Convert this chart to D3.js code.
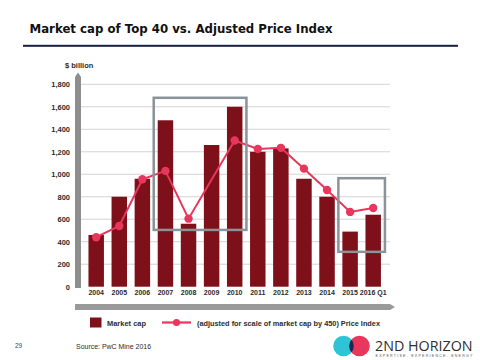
<!DOCTYPE html>
<html><head><meta charset="utf-8">
<script src="https://cdn.jsdelivr.net/npm/d3@7"></script>
<style>html,body{margin:0;padding:0;background:#fff;}svg{display:block;}</style>
</head><body>
<script>
const categories = ["2004","2005","2006","2007","2008","2009","2010","2011","2012","2013","2014","2015","2016 Q1"];
const marketCap = [460, 800, 960, 1480, 560, 1260, 1600, 1200, 1230, 960, 800, 490, 640];
const priceIndex = [440, 540, 955, 1030, 605, null, 1300, 1225, 1235, 1050, 860, 665, 700];
const yTicks = [0, 200, 400, 600, 800, 1000, 1200, 1400, 1600, 1800];
const boxes = [
  {from: "2007", to: "2010", lo: 505, hi: 1680},
  {from: "2015", to: "2016 Q1", lo: 310, hi: 965}
];
const titleText = "Market cap of Top 40 vs. Adjusted Price Index";
const legendBar = "Market cap";
const legendLine = "(adjusted for scale of market cap by 450) Price Index";

const W = 480, H = 360;
const svg = d3.select("body").append("svg").attr("width", W).attr("height", H);
svg.append("rect").attr("width", W).attr("height", H).attr("fill", "#fff");

const x = d3.scaleBand().domain(categories).range([84.66, 384.74]).paddingInner(0.33).paddingOuter(0.165);
const y = d3.scaleLinear().domain([0, 1800]).range([286.7, 84.3]);

const BAR = "#7e1019", LINE = "#e8375d", AX = "#8e8e8e", TXT = "#2b2b2b";

// title
svg.append("text").attr("x", 29.5).attr("y", 33).text(titleText)
  .attr("font-family", "DejaVu Sans, Verdana, sans-serif").attr("font-weight", "bold")
  .attr("font-size", 12.5).attr("fill", "#111")
  .attr("textLength", 303).attr("lengthAdjust", "spacingAndGlyphs");
svg.append("rect").attr("x", 23).attr("y", 44.8).attr("width", 435).attr("height", 2).attr("fill", "#14213f");

// gridlines
svg.append("g").selectAll("line").data(yTicks.filter(d => d > 0)).join("line")
  .attr("x1", 81).attr("x2", 390).attr("y1", d => y(d)).attr("y2", d => y(d))
  .attr("stroke", "#d4d4d4").attr("stroke-width", 1);

// y axis via d3 axis (labels only)
const yAxis = svg.append("g").attr("transform", "translate(72,0)")
  .call(d3.axisLeft(y).tickValues(yTicks).tickSize(0).tickPadding(2).tickFormat(d3.format(",")));
yAxis.select(".domain").remove();
yAxis.selectAll("text").attr("font-family", "Liberation Sans, Arial, sans-serif")
  .attr("font-weight", "bold").attr("font-size", 7.5).attr("fill", TXT);

svg.append("text").attr("x", 65).attr("y", 67.5).text("$ billion")
  .attr("font-family", "Liberation Sans, Arial, sans-serif").attr("font-weight", "bold")
  .attr("font-size", 7.5).attr("fill", TXT);

// bars
svg.append("g").selectAll("rect").data(categories).join("rect")
  .attr("x", d => x(d)).attr("width", x.bandwidth())
  .attr("y", (d, i) => y(marketCap[i])).attr("height", (d, i) => y(0) - y(marketCap[i]))
  .attr("fill", BAR);

// vertical axis bar with arrow
svg.append("path").attr("d", "M75,288 L75,77 L78,72.5 L81,77 L81,288 Z").attr("fill", AX);
// horizontal axis bar with arrow
svg.append("path").attr("d", "M75,304 L390,304 L395,307 L390,310 L75,310 Z").attr("fill", "#9a9a9a");

// x labels
const xAxis = svg.append("g").attr("transform", "translate(0,290)")
  .call(d3.axisBottom(x).tickSize(0).tickPadding(0));
xAxis.select(".domain").remove();
xAxis.selectAll("text").attr("font-family", "Liberation Sans, Arial, sans-serif")
  .attr("font-weight", "bold").attr("font-size", 7).attr("fill", TXT).attr("dy", "0.65em");

// line
const pts = categories.map((c, i) => ({c, v: priceIndex[i]})).filter(d => d.v != null);
const line = d3.line().x(d => x(d.c) + x.bandwidth() / 2).y(d => y(d.v));
svg.append("path").datum(pts).attr("d", line).attr("fill", "none")
  .attr("stroke", LINE).attr("stroke-width", 2);
svg.append("g").selectAll("circle").data(pts).join("circle")
  .attr("cx", d => x(d.c) + x.bandwidth() / 2).attr("cy", d => y(d.v)).attr("r", 4.2)
  .attr("fill", LINE);

// boxes
svg.append("g").selectAll("rect").data(boxes).join("rect")
  .attr("x", d => x(d.from) - 4).attr("width", d => x(d.to) + x.bandwidth() + 4 - (x(d.from) - 4))
  .attr("y", d => y(d.hi)).attr("height", d => y(d.lo) - y(d.hi))
  .attr("fill", "none").attr("stroke", "#8b9398").attr("stroke-width", 2.5);

// legend
svg.append("rect").attr("x", 90).attr("y", 317.5).attr("width", 11.5).attr("height", 10).attr("fill", BAR);
svg.append("text").attr("x", 107).attr("y", 325.5).text(legendBar)
  .attr("font-family", "Liberation Sans, Arial, sans-serif").attr("font-weight", "bold")
  .attr("font-size", 8).attr("fill", TXT).attr("textLength", 39).attr("lengthAdjust", "spacingAndGlyphs");
svg.append("line").attr("x1", 162).attr("x2", 191).attr("y1", 322.5).attr("y2", 322.5)
  .attr("stroke", LINE).attr("stroke-width", 2.2);
svg.append("circle").attr("cx", 176.5).attr("cy", 322.5).attr("r", 3.6).attr("fill", LINE);
svg.append("text").attr("x", 197).attr("y", 325.5).text(legendLine)
  .attr("font-family", "Liberation Sans, Arial, sans-serif").attr("font-weight", "bold")
  .attr("font-size", 8).attr("fill", TXT).attr("textLength", 183).attr("lengthAdjust", "spacingAndGlyphs");

// footer
svg.append("text").attr("x", 15).attr("y", 348).text("29")
  .attr("font-family", "Liberation Sans, Arial, sans-serif").attr("font-size", 6.5).attr("fill", "#2a4a7a");
svg.append("text").attr("x", 76).attr("y", 348.5).text("Source: PwC Mine 2016")
  .attr("font-family", "Liberation Sans, Arial, sans-serif").attr("font-size", 7).attr("fill", TXT)
  .attr("textLength", 75).attr("lengthAdjust", "spacingAndGlyphs");

// logo
const logo = svg.append("g");
const defs = svg.append("defs");
defs.append("clipPath").attr("id", "cl").append("circle").attr("cx", 343.5).attr("cy", 346).attr("r", 10.3);
logo.append("circle").attr("cx", 343.5).attr("cy", 346).attr("r", 10.3).attr("fill", "#2ec4d6");
logo.append("circle").attr("cx", 359.5).attr("cy", 346).attr("r", 10.3).attr("fill", "#e8365c");
logo.append("circle").attr("cx", 359.5).attr("cy", 346).attr("r", 10.3).attr("fill", "#1c2a4e").attr("clip-path", "url(#cl)");
logo.append("text").attr("x", 375).attr("y", 350.5).text("2ND HORIZON")
  .attr("font-family", "Open Sans, Liberation Sans, sans-serif").attr("font-size", 15).attr("fill", "#2d2d2d")
  .attr("textLength", 97.5).attr("lengthAdjust", "spacingAndGlyphs");
logo.append("text").attr("x", 375.5).attr("y", 356.5).text("EXPERTISE. EXPERIENCE. ENERGY")
  .attr("font-family", "Liberation Sans, Arial, sans-serif").attr("font-size", 3.6).attr("fill", "#555")
  .attr("textLength", 97).attr("lengthAdjust", "spacing");
</script>
</body></html>
